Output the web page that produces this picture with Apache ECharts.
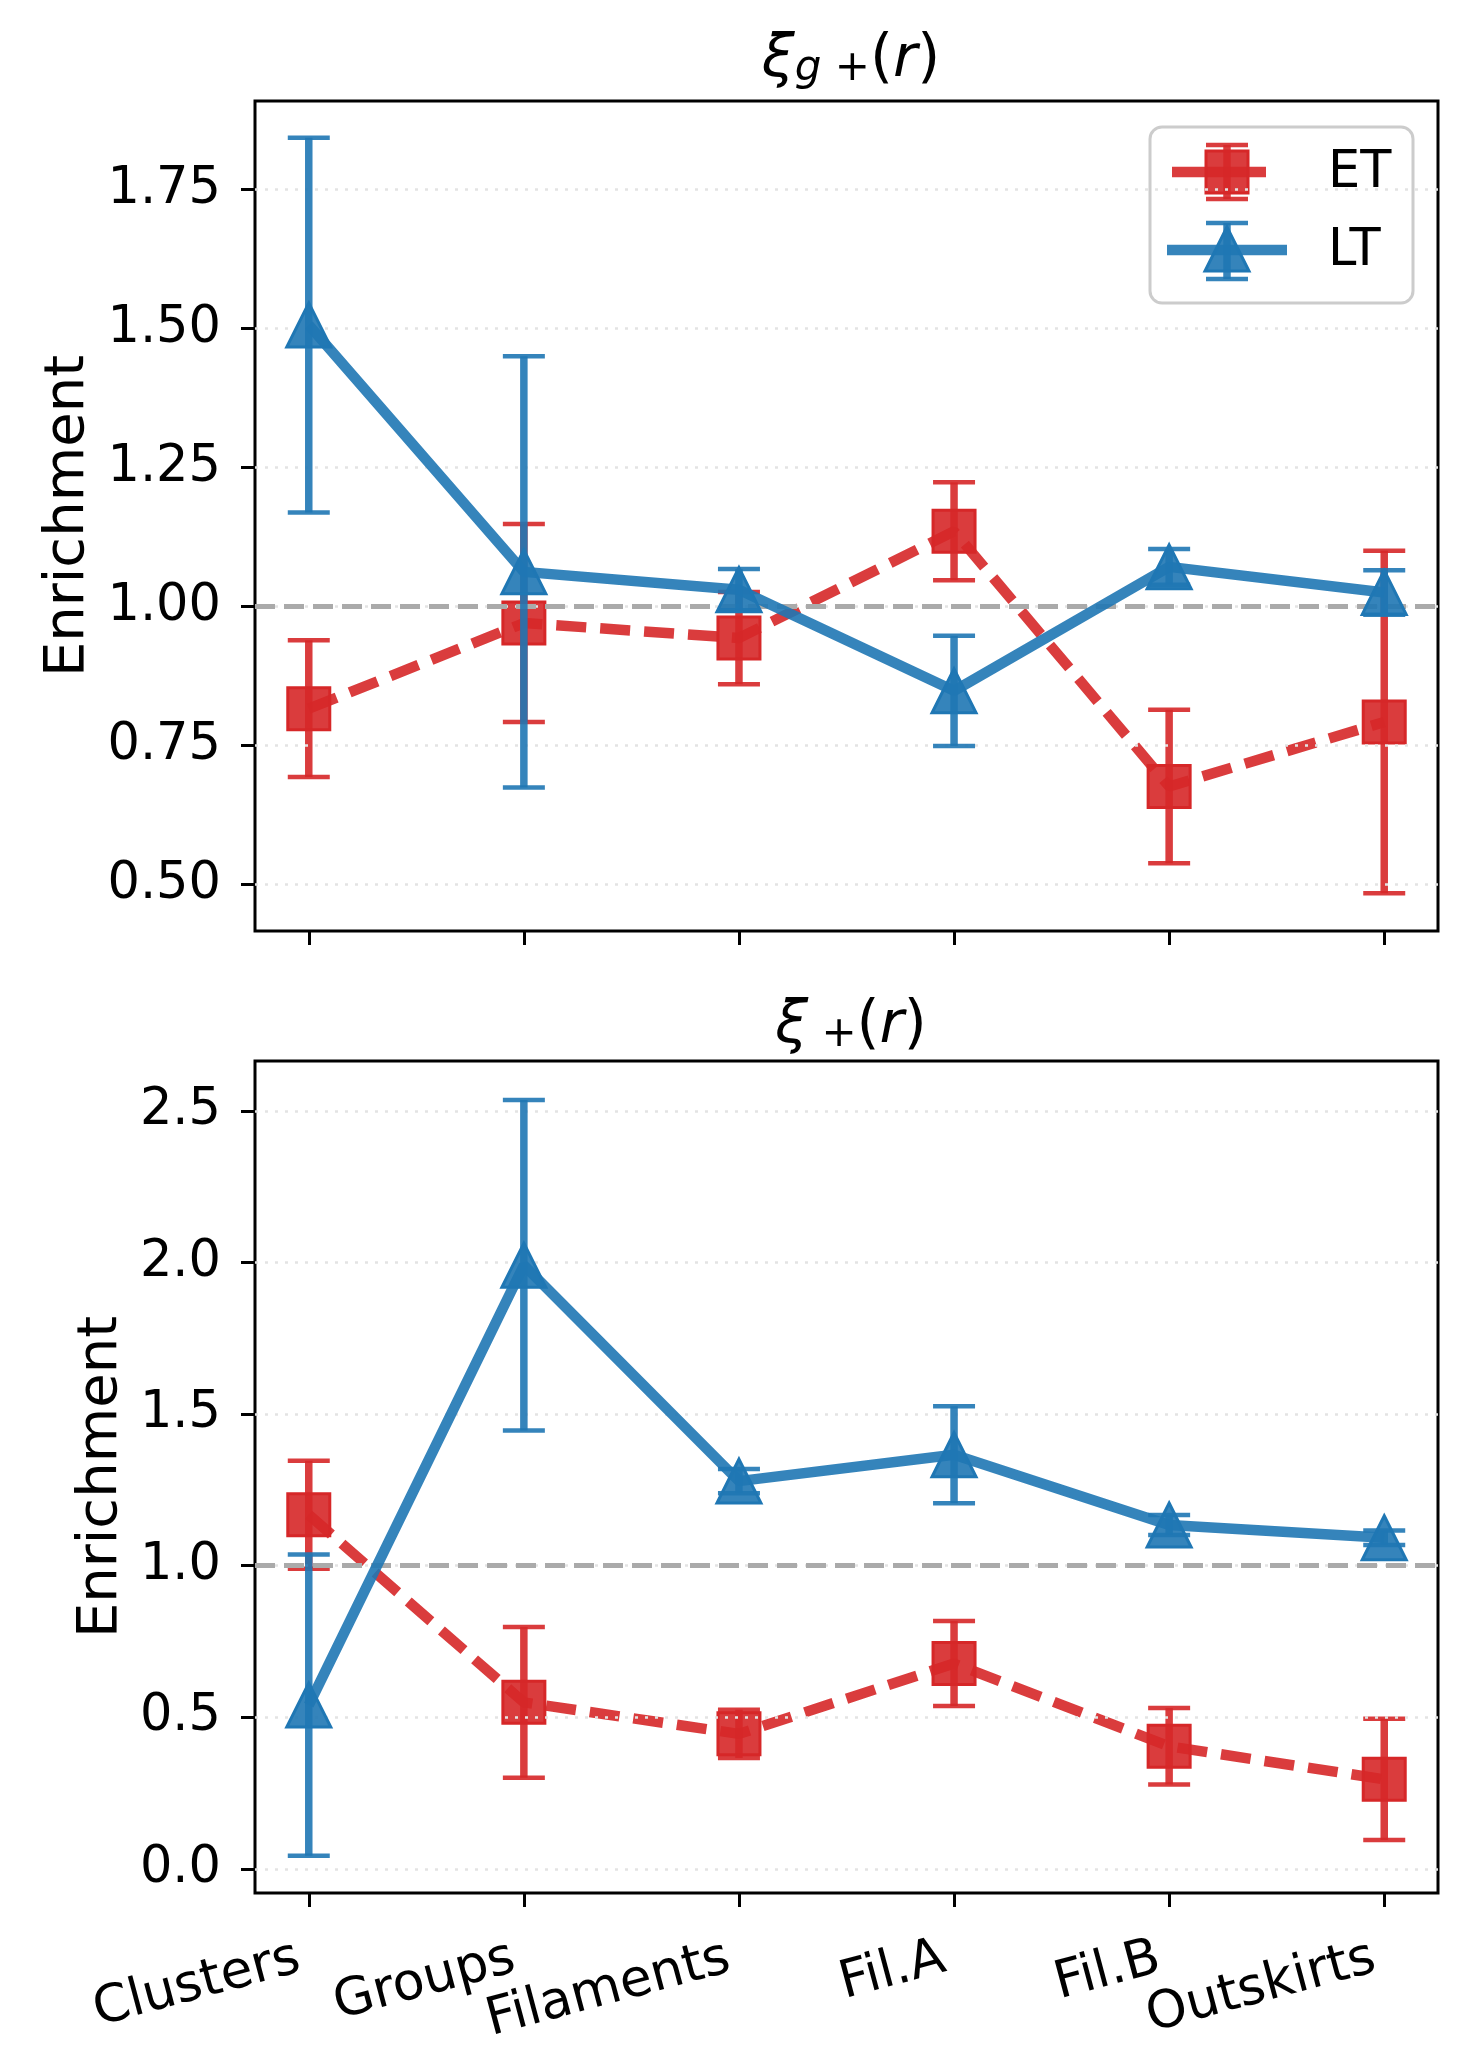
<!DOCTYPE html>
<html>
<head>
<meta charset="utf-8">
<script src="https://cdn.jsdelivr.net/npm/echarts@6/dist/echarts.min.js"></script>
<style>
  html, body { margin: 0; padding: 0; background: #fff; }
  #main { width: 1470px; height: 2070px; }
</style>
</head>
<body>
<div id="main"></div>
<script>
var categories = ['Clusters', 'Groups', 'Filaments', 'Fil.A', 'Fil.B', 'Outskirts'];

// xi_g+ (top panel)
var gpET    = [0.816, 0.970, 0.943, 1.135, 0.676, 0.792];
var gpETerr = [0.123, 0.178, 0.083, 0.088, 0.138, 0.308];
var gpLT    = [1.506, 1.062, 1.030, 0.848, 1.071, 1.025];
var gpLTerr = [0.337, 0.388, 0.037, 0.099, 0.032, 0.040];

// xi_+ (bottom panel)
var ppET    = [1.168, 0.549, 0.445, 0.677, 0.404, 0.295];
var ppETerr = [0.178, 0.249, 0.080, 0.140, 0.126, 0.200];
var ppLT    = [0.540, 1.991, 1.279, 1.366, 1.134, 1.092];
var ppLTerr = [0.497, 0.545, 0.040, 0.160, 0.033, 0.024];

var gpTicks = [0.50, 0.75, 1.00, 1.25, 1.50, 1.75];
var ppTicks = [0.0, 0.5, 1.0, 1.5, 2.0, 2.5];
var xTicks = [0, 1, 2, 3, 4, 5];

var RED = '#d62728', BLUE = '#1f77b4';
var RED_A = 'rgba(214,39,40,0.9)', BLUE_A = 'rgba(31,119,180,0.9)';
var FONT = 'DejaVu Sans';

function pts(vals) {
  return vals.map(function (v, i) { return [i, v]; });
}
function errs(vals, e) {
  return vals.map(function (v, i) { return [i, v - e[i], v + e[i]]; });
}

function errRenderer(color) {
  return function (params, api) {
    var x = api.value(0);
    var top = api.coord([x, api.value(2)]);
    var bot = api.coord([x, api.value(1)]);
    var w = 21;
    var st = { stroke: color, lineWidth: 7.5 };
    var cap = { stroke: color, lineWidth: 4.5 };
    return {
      type: 'group',
      children: [
        { type: 'line', shape: { x1: top[0], y1: top[1], x2: bot[0], y2: bot[1] }, style: st },
        { type: 'line', shape: { x1: top[0] - w, y1: top[1], x2: top[0] + w, y2: top[1] }, style: cap },
        { type: 'line', shape: { x1: bot[0] - w, y1: bot[1], x2: bot[0] + w, y2: bot[1] }, style: cap }
      ]
    };
  };
}

function xAxis(idx, showLabels) {
  return {
    type: 'value', gridIndex: idx, min: -0.25, max: 5.25,
    splitLine: { show: false },
    axisLine: { show: false, onZero: false },
    axisTick: { show: true, customValues: xTicks, length: 14, lineStyle: { color: '#000', width: 3 } },
    axisLabel: {
      show: showLabels, customValues: xTicks, rotate: 15, margin: 62,
      fontSize: 52, color: '#000', fontFamily: FONT, padding: [0, 10, 0, 0],
      formatter: function (v) { return categories[v]; }
    }
  };
}

function yAxis(idx, min, max, ticks, dec, gap) {
  return {
    type: 'value', gridIndex: idx, min: min, max: max,
    name: 'Enrichment', nameLocation: 'middle', nameGap: gap,
    nameTextStyle: { fontSize: 56, color: '#000', fontFamily: FONT },
    splitLine: { show: false },
    axisLine: { show: false, onZero: false },
    axisTick: { show: true, customValues: ticks, length: 14, lineStyle: { color: '#000', width: 3 } },
    axisLabel: {
      customValues: ticks, margin: 34, fontSize: 51, color: '#000', fontFamily: FONT,
      formatter: function (v) { return v.toFixed(dec); }
    }
  };
}

function panelSeries(idx, et, etErr, lt, ltErr, ticks) {
  return [
    {
      name: 'grid' + idx, type: 'line', xAxisIndex: idx, yAxisIndex: idx, data: [], silent: true, z: 1,
      markLine: {
        silent: true, symbol: ['none', 'none'], label: { show: false },
        lineStyle: { color: '#e3e3e3', type: [3, 7], width: 2.5 },
        data: ticks.map(function (t) { return { yAxis: t }; })
      }
    },
    {
      name: 'ref' + idx, type: 'line', xAxisIndex: idx, yAxisIndex: idx, data: [], silent: true, z: 2,
      markLine: {
        silent: true, symbol: ['none', 'none'], label: { show: false },
        lineStyle: { color: '#aaaaaa', type: [20, 9], width: 5 },
        data: [{ yAxis: 1.0 }]
      }
    },
    {
      name: 'ET err', type: 'custom', xAxisIndex: idx, yAxisIndex: idx, z: 3,
      renderItem: errRenderer(RED_A), data: errs(et, etErr)
    },
    {
      name: 'ET', type: 'line', xAxisIndex: idx, yAxisIndex: idx, z: 4,
      data: pts(et), symbol: 'rect', symbolSize: 42, showAllSymbol: true,
      lineStyle: { color: RED_A, width: 10.5, type: [30, 14] },
      itemStyle: { color: RED_A, borderColor: RED, borderWidth: 3 }
    },
    {
      name: 'LT err', type: 'custom', xAxisIndex: idx, yAxisIndex: idx, z: 5,
      renderItem: errRenderer(BLUE_A), data: errs(lt, ltErr)
    },
    {
      name: 'LT', type: 'line', xAxisIndex: idx, yAxisIndex: idx, z: 6,
      data: pts(lt), symbol: 'triangle', symbolSize: 44, showAllSymbol: true,
      lineStyle: { color: BLUE_A, width: 10.5 },
      itemStyle: { color: BLUE_A, borderColor: BLUE, borderWidth: 3 }
    }
  ];
}

var richTitle = {
  i: { fontStyle: 'italic', fontWeight: 'normal', fontSize: 59, lineHeight: 59, verticalAlign: 'top', fontFamily: FONT, color: '#000' },
  n: { fontWeight: 'normal', fontSize: 59, lineHeight: 59, verticalAlign: 'top', fontFamily: FONT, color: '#000' },
  s: { fontStyle: 'italic', fontWeight: 'normal', fontSize: 42, lineHeight: 42, padding: [22, 0, 0, 0], verticalAlign: 'bottom', fontFamily: FONT, color: '#000' },
  p: { fontWeight: 'normal', fontSize: 42, lineHeight: 42, padding: [22, 0, 0, 0], verticalAlign: 'bottom', fontFamily: FONT, color: '#000' }
};

// legend drawn as graphic so the handles can carry the error-bar glyphs
function legendGlyph(cy, color, lineX1, lineX2, marker, capTop, capBot) {
  var cx = 1227;
  var parts = [
    { type: 'line', shape: { x1: lineX1, y1: cy, x2: lineX2, y2: cy }, style: { stroke: color, lineWidth: 10.5 } },
    { type: 'line', shape: { x1: cx, y1: capTop, x2: cx, y2: capBot }, style: { stroke: color, lineWidth: 7.5 } },
    { type: 'line', shape: { x1: cx - 21, y1: capTop, x2: cx + 21, y2: capTop }, style: { stroke: color, lineWidth: 4.5 } },
    { type: 'line', shape: { x1: cx - 21, y1: capBot, x2: cx + 21, y2: capBot }, style: { stroke: color, lineWidth: 4.5 } }
  ];
  parts.push(marker);
  return parts;
}

var legendGraphic = {
  type: 'group', z: 100,
  children: [
    { type: 'rect', shape: { x: 1150, y: 127, width: 263, height: 176, r: 12 },
      style: { fill: 'rgba(255,255,255,0.8)', stroke: '#cccccc', lineWidth: 3 } }
  ].concat(legendGlyph(172, RED_A, 1172, 1266,
      { type: 'rect', shape: { x: 1206, y: 151, width: 42, height: 42 }, style: { fill: RED_A, stroke: RED, lineWidth: 3 } },
      145, 199))
   .concat(legendGlyph(250, BLUE_A, 1167, 1287,
      { type: 'polygon', shape: { points: [[1227, 227], [1205, 271], [1249, 271]] }, style: { fill: BLUE_A, stroke: BLUE, lineWidth: 3 } },
      223, 279))
   .concat([
     { type: 'text', style: { x: 1328, y: 174, text: 'ET', fontSize: 51, fontFamily: FONT, fill: '#000', verticalAlign: 'middle' } },
     { type: 'text', style: { x: 1328, y: 252, text: 'LT', fontSize: 51, fontFamily: FONT, fill: '#000', verticalAlign: 'middle' } }
   ])
};

var chart = echarts.init(document.getElementById('main'), null, { renderer: 'canvas' });

var option = {
  backgroundColor: '#fff',
  animation: false,
  textStyle: { fontFamily: FONT },
  title: [
    { text: '{i|ξ}{s|g}{p| +}{n|(}{i|r}{n|)}', left: 846, top: 26, textAlign: 'center', textStyle: { fontWeight: 'normal', rich: richTitle } },
    { text: '{i|ξ}{p| +}{n|(}{i|r}{n|)}', left: 846, top: 992, textAlign: 'center', textStyle: { fontWeight: 'normal', rich: richTitle } }
  ],
  grid: [
    { left: 255, top: 101, width: 1183, height: 830, show: true, borderColor: '#000', borderWidth: 3, backgroundColor: 'transparent' },
    { left: 255, top: 1061, width: 1183, height: 832, show: true, borderColor: '#000', borderWidth: 3, backgroundColor: 'transparent' }
  ],
  xAxis: [xAxis(0, false), xAxis(1, true)],
  yAxis: [
    yAxis(0, 0.416, 1.909, gpTicks, 2, 156),
    yAxis(1, -0.08, 2.665, ppTicks, 1, 123)
  ],
  graphic: [legendGraphic],
  series: panelSeries(0, gpET, gpETerr, gpLT, gpLTerr, gpTicks)
    .concat(panelSeries(1, ppET, ppETerr, ppLT, ppLTerr, ppTicks))
};

chart.setOption(option);
</script>
</body>
</html>
